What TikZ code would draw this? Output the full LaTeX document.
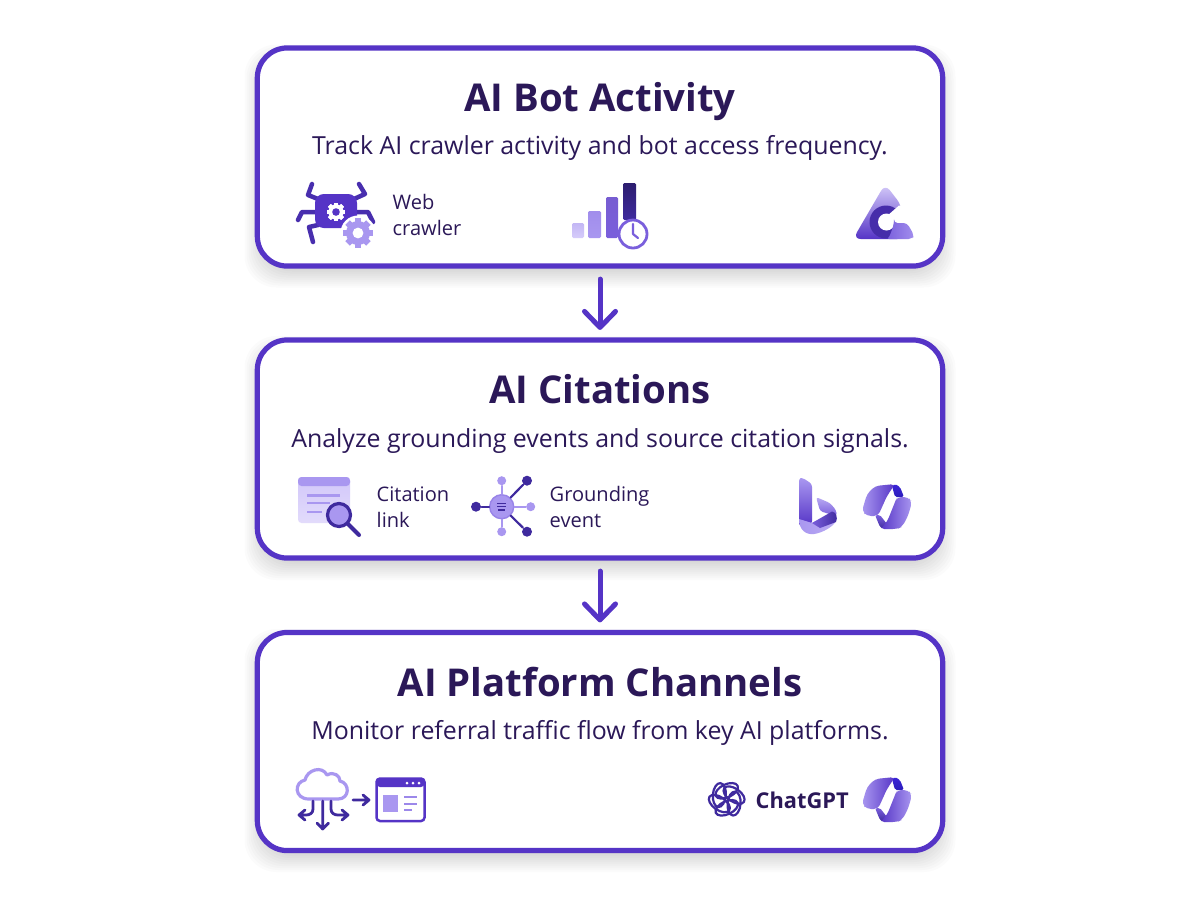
\documentclass[tikz,border=0pt]{standalone}
\usepackage{fontspec}
\setmainfont{Open Sans}
\usetikzlibrary{arrows.meta}
\definecolor{flowline}{HTML}{5534C6}
\definecolor{inkdark}{HTML}{2B1858}
\definecolor{icondark}{HTML}{3F2A9E}
\definecolor{iconmid}{HTML}{7A5FDC}
\definecolor{iconlight}{HTML}{A997F0}
\definecolor{iconpale}{HTML}{D6CCFA}
\tikzset{
	flowbox/.style={rectangle, draw=flowline, fill=white, line width=0.052cm, rounded corners=0.3cm, minimum width=6.85cm, minimum height=2.18cm, outer sep=0pt},
	flowarrow/.style={line width=0.05cm, draw=flowline, line cap=round, shorten <=0.13cm, shorten >=0.1cm, -{Straight Barb[length=0.16cm, width=0.31cm, line width=0.05cm, round]}},
	titletext/.style={text=inkdark, font=\fontsize{10.9}{14}\bfseries, anchor=base, inner sep=0pt},
	subtext/.style={text=inkdark, font=\fontsize{7.08}{10}\selectfont, anchor=base, inner sep=0pt},
	smalltext/.style={text=inkdark, font=\fontsize{5.7}{7.4}\selectfont, anchor=west, align=left, inner sep=0pt},
	thinlink/.style={draw=icondark, line width=0.022cm, line cap=round},
	satdark/.style={circle, fill=icondark},
	satlight/.style={circle, fill=iconlight}
}
\newcommand{\gearmark}[4]{
	\begin{scope}[shift={(#1,#2)}]
		\foreach \a in {0,45,...,315}
			\fill[#4, rotate=\a] (-0.26*#3,-1.22*#3) rectangle (0.26*#3,1.22*#3);
		\fill[#4] (0,0) circle (#3);
		\fill[white] (0,0) circle (0.45*#3);
	\end{scope}
}
\newcommand{\copilotmark}[2]{
	\begin{scope}[shift={(#1,#2)}]
		\shade[top color=flowline!70!blue, bottom color=icondark!70!blue, rounded corners=0.5pt] (30,2) -- (33,0) -- (38,3) -- (42,13) -- (33,13) -- cycle;
		\shade[top color=iconmid, bottom color=icondark, rounded corners=0.5pt] (13,31) -- (18,31) -- (25,40) -- (21,45) -- (18,43) -- cycle;
		\shade[shading angle=60, left color=iconlight, right color=flowline, rounded corners=1.2pt] (13,2) -- (33,0) -- (25,12) -- (16,32) -- (5,32) -- (0,27) -- (5,10) -- cycle;
		\shade[shading angle=200, left color=flowline, right color=iconlight, rounded corners=1.2pt] (35,13) -- (46,13) -- (50,18) -- (46,32) -- (40,43) -- (35,45) -- (18,45) -- (25,38) -- (33,18) -- cycle;
	\end{scope}
}
\begin{document}
\begin{tikzpicture}[x=0.01cm, y=-0.01cm]
	\useasboundingbox (0,0) rectangle (1200,896);
	\fill[white] (0,0) rectangle (1200,896);
	% soft shadows
	\foreach \t/\b in {48.5/265.5, 340/558, 633/850}
		\foreach \g in {-8,-6,...,14}
			\fill[black, opacity=0.015, rounded corners=0.32cm] (258.5-\g,\t+10-\g) rectangle (941.5+\g,\b+8+\g);
	
	\node[flowbox] at (600,157) (botbox) {};
	\node[flowbox] at (600,449) (citebox) {};
	\node[flowbox] at (600,741.5) (platbox) {};
	%Lines
	\draw[flowarrow] (botbox) -- (citebox);
	\draw[flowarrow] (citebox) -- (platbox);
	
	\node[titletext] at (600,111) (bottitle) {AI Bot Activity};
	\node[subtext] at (600,154) (botsub) {Track AI crawler activity and bot access frequency.};
	\node[titletext] at (600,403) (citetitle) {AI Citations};
	\node[subtext] at (600,447) (citesub) {Analyze grounding events and source citation signals.};
	\node[titletext] at (600,696) (plattitle) {AI Platform Channels};
	\node[subtext] at (600,739) (platsub) {Monitor referral traffic flow from key AI platforms.};
	
	\node[smalltext] at (392,215) (crawlerlabel) {Web\\crawler};
	\node[smalltext] at (376,507) (citationlabel) {Citation\\link};
	\node[smalltext] at (549,507) (groundlabel) {Grounding\\event};
	\node[anchor=base west, inner sep=0pt, text=inkdark, font=\fontsize{6.2}{9}\bfseries] at (755,808) (chatlabel) {ChatGPT};
	
	% spider
	\draw[icondark!60!flowline, line width=0.045cm, line cap=round, line join=round]
		(318,199) -- (308,195) -- (312,184)
		(354,199) -- (365,194) -- (359,184)
		(318,212) -- (302,212) -- (298,220)
		(354,212) -- (368,212) -- (373,222)
		(318,225) -- (309,227) -- (313,242);
	\fill[flowline, rounded corners=2.5pt] (315,194) rectangle (357,228);
	\gearmark{336}{212}{7.6}{white}
	\fill[flowline] (336,212) circle (3.8);
	\fill[white] (358,233) circle (17.5);
	\gearmark{358}{233}{12}{iconlight}
	
	% bars and clock
	\shade[top color=iconlight!70!white, bottom color=iconpale, rounded corners=0.4pt] (572,223) rectangle (584,238);
	\shade[top color=iconlight!90!flowline, bottom color=iconlight, rounded corners=0.4pt] (588,211) rectangle (601,238);
	\shade[top color=flowline!80!white, bottom color=iconmid, rounded corners=0.4pt] (606,197) rectangle (618,238);
	\shade[top color=icondark!70!black, bottom color=icondark, rounded corners=0.4pt] (623,183) rectangle (636,220);
	\draw[iconmid, fill=white, line width=0.028cm] (633,234) circle (14);
	\draw[iconmid, line width=0.022cm, line cap=round, line join=round] (633,224) -- (633,234) -- (638,238);
	
	% triangle logo
	\shade[top color=iconpale, bottom color=flowline, rounded corners=2.2pt] (885,184) -- (853,239) -- (905,239) -- (901,222) -- (902,206) -- cycle;
	\fill[icondark!70!flowline] (886,222) circle (16.5);
	\fill[white] (886.5,222) circle (8.5);
	\fill[white] (887,216) -- (899,205.5) -- (916,205.5) -- (916,223) -- (893,223) -- (887,226) -- cycle;
	\shade[left color=iconmid, right color=iconlight!85!iconmid, rounded corners=1pt] (894,223) -- (907,223) -- (914,235) -- (912,239) -- (886,239) .. controls (890,236) and (892,230) .. cycle;
	
	% citation window
	\shade[top color=iconpale!90!iconlight, bottom color=iconpale!70!white, rounded corners=1pt] (298,477) rectangle (350,523);
	\fill[iconlight, rounded corners=1pt] (298,477) rectangle (350,486);
	\draw[iconlight, line width=0.025cm] (307,495.5) -- (340,495.5) (307,503) -- (330,503) (307,512) -- (322,512);
	\draw[icondark, line width=0.04cm, line cap=round] (347,523) -- (359,535);
	\draw[icondark, fill=iconlight, line width=0.032cm] (339,515) circle (11.5);
	
	% grounding hub
	\node[satlight, minimum size=0.09cm, inner sep=0pt] at (501.7,480.7) (gtop) {};
	\node[satdark, minimum size=0.1cm, inner sep=0pt] at (527,480.7) (gtr) {};
	\node[satlight, minimum size=0.09cm, inner sep=0pt] at (530.7,506.7) (gright) {};
	\node[satdark, minimum size=0.1cm, inner sep=0pt] at (527,531.7) (gbr) {};
	\node[satlight, minimum size=0.09cm, inner sep=0pt] at (501.7,531.7) (gbot) {};
	\node[satdark, minimum size=0.1cm, inner sep=0pt] at (476,506.7) (gleft) {};
	\node[circle, fill=iconlight, draw=iconlight!80!flowline, minimum size=0.24cm, inner sep=0pt] at (501.7,506.7) (ghub) {};
	\draw[thinlink] (ghub) -- (gtr);
	\draw[thinlink] (ghub) -- (gbr);
	\draw[thinlink] (ghub) -- (gleft);
	\draw[thinlink, iconlight] (ghub) -- (gtop);
	\draw[thinlink, iconlight] (ghub) -- (gbot);
	\draw[thinlink, iconlight] (ghub) -- (gright);
	\draw[icondark, line width=0.014cm] (497,503.5) -- (506,503.5) (497,506.7) -- (506,506.7) (498,510) -- (505,510);
	
	% bing
	\shade[top color=iconlight, bottom color=flowline, rounded corners=0.8pt] (799,478) -- (803,478) -- (812,484) -- (812,524) -- (799,526) -- cycle;
	\shade[top color=iconlight!80!white, bottom color=iconmid, rounded corners=0.8pt] (816,497) -- (830,503) -- (836,510) -- (837,516) -- (826,513) -- (820,511) -- cycle;
	\shade[left color=iconlight, right color=iconlight!80!white] (799,519) .. controls (799,530) and (806,535) .. (814,534) .. controls (822,533) and (836,526) .. (837,518) -- (833,512) -- (812,523) -- cycle;
	\shade[left color=iconmid, right color=icondark] (812,523) -- (832,511.5) .. controls (836,512) and (838,517) .. (836,522) -- (820,528) -- cycle;
	
	\copilotmark{862}{484}
	\copilotmark{862}{777}
	
	% cloud and page
	\draw[iconlight, fill=white, line width=0.032cm, line join=round] (309,799) .. controls (294,799) and (294,782) .. (305,780) .. controls (307,770) and (322,765) .. (327,775) .. controls (334,771) and (340,776) .. (340,781) .. controls (350,783) and (350,799) .. (338,799) -- cycle;
	\draw[icondark, line width=0.028cm, line cap=round, line join=round] (322.7,801) -- (322.7,829) (317,823) -- (322.7,829) -- (328.5,823);
	\draw[icondark, line width=0.028cm, line cap=round, line join=round] (313,801) -- (313,809) .. controls (313,813) and (310,815) .. (306,815) -- (299,815) (305,810) -- (299,815) -- (305,820);
	\draw[icondark, line width=0.028cm, line cap=round, line join=round] (331,801) -- (331,809) .. controls (331,813) and (334,815) .. (338,815) -- (348,815) (342,810) -- (348,815) -- (342,820);
	\draw[icondark, line width=0.028cm, line cap=round, line join=round] (353,800) -- (369,800) (363,795) -- (369,800) -- (363,805);
	\draw[flowline, fill=white, line width=0.025cm, rounded corners=1pt] (376.5,778.5) rectangle (424.5,821);
	\fill[flowline, rounded corners=1pt] (376.5,778.5) rectangle (424.5,787);
	\foreach \d in {407,413,419}
		\fill[white] (\d,783) circle (1.5);
	\fill[iconlight] (383,795) rectangle (398,812);
	\draw[iconlight!85!flowline, line width=0.02cm] (404,796.5) -- (417,796.5) (404,803.5) -- (417,803.5) (404,810) -- (412,810);
	
	% chatgpt knot
	\foreach \a in {0,60,...,300}
		\draw[icondark, line width=0.022cm, shift={(726.7,799.3)}, rotate=\a, rotate around={25:(0,-8.5)}] (0,-8.5) ellipse (12 and 6.5);
\end{tikzpicture}
\end{document}
